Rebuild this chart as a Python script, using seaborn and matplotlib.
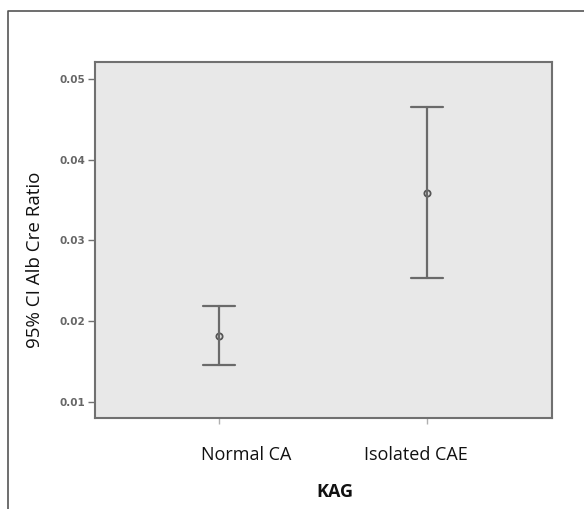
import pandas as pd
import seaborn as sns
import matplotlib.pyplot as plt
import matplotlib.transforms as mtransforms
from matplotlib.lines import Line2D

# data: mean and 95% CI per group
groups = ['Normal CA', 'Isolated CAE']
ci_low = [0.0146, 0.0253]
means = [0.0182, 0.0359]
ci_high = [0.0218, 0.0465]

# long table: low / mean / high for each group
rows = []
for g, lo, m, hi in zip(groups, ci_low, means, ci_high):
    for v in (lo, m, hi):
        rows.append({'KAG': g, 'ratio': v})
df = pd.DataFrame(rows)

sns.set_theme(style='white')
plt.rcParams['font.family'] = ['Open Sans', 'DejaVu Sans']

fig = plt.figure(figsize=(5.84, 5.09), dpi=100)
ax = fig.add_axes([95 / 584, 1 - 418 / 509, 457 / 584, 356 / 509])
ax.set_facecolor('#e8e8e8')

sns.pointplot(data=df, x='KAG', y='ratio', order=groups,
              estimator='median', errorbar=lambda v: (v.min(), v.max()),
              capsize=0.155, linestyle='none', color='#6a6a6a',
              err_kws={'linewidth': 1.6},
              marker='o', markersize=4.5, markerfacecolor='none',
              markeredgewidth=1.3, markeredgecolor='#555555', ax=ax)

ax.set_xlim(-0.6, 1.605)
ax.set_ylim(0.00798, 0.0521)
ax.set_yticks([0.01, 0.02, 0.03, 0.04, 0.05])
ax.set_yticklabels(['0.01', '0.02', '0.03', '0.04', '0.05'],
                   fontsize=7.5, fontweight='bold', color='#666666',
                   family='DejaVu Sans')

for s in ax.spines.values():
    s.set_color('#707070')
    s.set_linewidth(1.5)

ax.tick_params(axis='y', left=True, length=5, width=1, color='#707070', pad=2)
ax.tick_params(axis='x', bottom=True, length=4, width=1, color='#b0b0b0',
               pad=16, labelsize=13, labelcolor='#111111')

# the category labels sit a little off their ticks in the original
shifts = [27, -11]
for lab, dx in zip(ax.get_xticklabels(), shifts):
    lab.set_transform(lab.get_transform() +
                      mtransforms.ScaledTranslation(dx / 100, 0, fig.dpi_scale_trans))

ax.set_xlabel('KAG', fontsize=13, fontweight='bold', color='#111111', va='center')
ax.xaxis.set_label_coords(0.525, -0.208)
ax.set_ylabel('95% CI Alb Cre Ratio', fontsize=13.5, color='#111111', va='center')
ax.yaxis.set_label_coords(-0.131, 0.444)

# outer frame (only left and top edges show)
fx = 8 / 584
fy = 1 - 11 / 509
fig.add_artist(Line2D([fx, fx, 1.0], [0.0, fy, fy], transform=fig.transFigure,
                      color='#555555', linewidth=1.2))

fig.savefig('out.png', dpi=100)
